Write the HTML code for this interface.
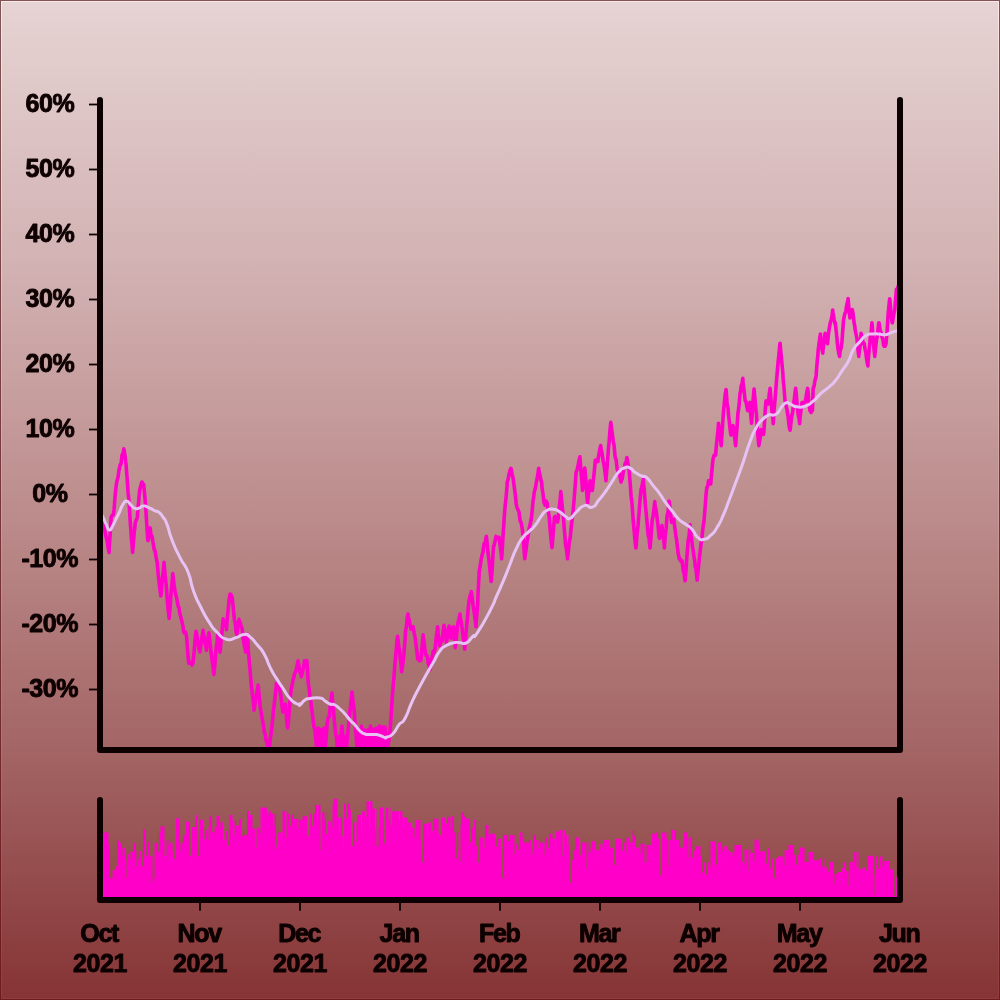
<!DOCTYPE html>
<html lang="en"><head><meta charset="utf-8"><title>Chart</title>
<style>
html,body{margin:0;padding:0;}
body{width:1000px;height:1000px;overflow:hidden;background:#873536;}
#frame{position:absolute;left:0;top:0;width:1000px;height:1000px;background:linear-gradient(180deg,#7e5456 0%,#701a1e 100%);}
#hl{position:absolute;left:1px;top:1px;width:998px;height:998px;background:linear-gradient(180deg,rgb(255,230,230) 0%,rgb(232,200,201) 25.5%,rgb(205,157,157) 50.5%,rgb(175,112,112) 75.5%,rgb(142,62,63) 100%);}
#bg{position:absolute;left:2px;top:2px;width:996px;height:996px;background:linear-gradient(180deg,rgb(230,211,211) 0%,rgb(211,179,180) 25.5%,rgb(189,141,141) 50.5%,rgb(163,100,100) 75.5%,rgb(134,52,53) 100%);}
svg{position:absolute;left:0;top:0;}
text{font-family:"Liberation Sans",sans-serif;font-weight:bold;font-size:25px;letter-spacing:-1.3px;fill:#0d0000;stroke:#0d0000;stroke-width:0.9px;stroke-linejoin:round;}
text.n{letter-spacing:-0.4px;}
</style></head><body>
<div id="frame"><div id="hl"></div><div id="bg"></div>
<svg width="1000" height="1000" viewBox="0 0 1000 1000">
<defs><clipPath id="c1"><rect x="100" y="97" width="800" height="653"/></clipPath>
<clipPath id="c2"><rect x="100" y="797" width="800" height="103"/></clipPath></defs>
<g clip-path="url(#c2)"><path d="M100,900 L100.0,840.0 L103.0,840.0 L103.0,832.6 L108.5,832.6 L108.5,844.6 L109.5,844.6 L109.5,890.2 L110.0,890.2 L110.0,878.2 L112.5,878.2 L112.5,870.2 L116.0,870.2 L116.0,866.6 L117.0,866.6 L117.0,840.6 L119.0,840.6 L119.0,843.0 L122.0,843.0 L122.0,847.8 L122.5,847.8 L122.5,855.8 L124.0,855.8 L124.0,847.8 L125.0,847.8 L125.0,871.8 L126.0,871.8 L126.0,877.8 L126.5,877.8 L126.5,860.2 L127.0,860.2 L127.0,854.2 L130.0,854.2 L130.0,851.8 L130.5,851.8 L130.5,859.8 L131.5,859.8 L131.5,851.8 L133.5,851.8 L133.5,843.0 L136.0,843.0 L136.0,851.0 L136.5,851.0 L136.5,867.0 L137.0,867.0 L137.0,859.0 L140.0,859.0 L140.0,851.0 L142.0,851.0 L142.0,866.0 L143.0,866.0 L143.0,829.4 L146.0,829.4 L146.0,856.4 L147.0,856.4 L147.0,841.4 L149.5,841.4 L149.5,855.8 L152.5,855.8 L152.5,882.2 L153.5,882.2 L153.5,878.2 L154.5,878.2 L154.5,843.0 L157.5,843.0 L157.5,831.8 L158.0,831.8 L158.0,851.8 L159.0,851.8 L159.0,831.8 L160.5,831.8 L160.5,826.2 L164.5,826.2 L164.5,855.8 L166.5,855.8 L166.5,839.8 L168.5,839.8 L168.5,845.8 L169.5,845.8 L169.5,839.8 L170.0,839.8 L170.0,843.0 L172.5,843.0 L172.5,851.0 L174.0,851.0 L174.0,859.0 L176.0,859.0 L176.0,818.2 L179.5,818.2 L179.5,826.2 L180.0,826.2 L180.0,851.0 L180.5,851.0 L180.5,843.0 L183.0,843.0 L183.0,835.0 L186.0,835.0 L186.0,821.4 L187.0,821.4 L187.0,829.4 L188.0,829.4 L188.0,821.4 L190.0,821.4 L190.0,855.8 L191.0,855.8 L191.0,867.8 L192.0,867.8 L192.0,827.0 L195.0,827.0 L195.0,821.0 L196.0,821.0 L196.0,815.0 L197.5,815.0 L197.5,846.2 L198.0,846.2 L198.0,856.2 L199.5,856.2 L199.5,819.8 L203.0,819.8 L203.0,827.0 L204.0,827.0 L204.0,839.0 L205.0,839.0 L205.0,827.0 L205.5,827.0 L205.5,830.2 L208.0,830.2 L208.0,840.2 L208.5,840.2 L208.5,826.6 L209.0,826.6 L209.0,816.6 L212.0,816.6 L212.0,831.8 L214.0,831.8 L214.0,827.0 L214.5,827.0 L214.5,833.0 L215.5,833.0 L215.5,827.0 L216.5,827.0 L216.5,815.8 L219.5,815.8 L219.5,821.8 L220.0,821.8 L220.0,828.2 L220.5,828.2 L220.5,822.2 L223.0,822.2 L223.0,839.8 L226.0,839.8 L226.0,831.0 L228.0,831.0 L228.0,846.0 L229.0,846.0 L229.0,831.0 L229.5,831.0 L229.5,815.0 L232.5,815.0 L232.5,820.6 L233.5,820.6 L233.5,835.6 L234.5,835.6 L234.5,820.6 L236.0,820.6 L236.0,825.4 L239.0,825.4 L239.0,819.0 L241.5,819.0 L241.5,836.2 L243.0,836.2 L243.0,830.2 L244.0,830.2 L244.0,835.0 L247.0,835.0 L247.0,811.0 L249.0,811.0 L249.0,819.0 L250.0,819.0 L250.0,815.0 L252.5,815.0 L252.5,828.8 L255.5,828.8 L255.5,848.8 L256.0,848.8 L256.0,847.5 L256.5,847.5 L256.5,827.5 L260.0,827.5 L260.0,807.5 L260.5,807.5 L260.5,833.5 L261.5,833.5 L261.5,807.5 L267.0,807.5 L267.0,811.5 L267.5,811.5 L267.5,815.2 L268.5,815.2 L268.5,811.2 L271.0,811.2 L271.0,813.8 L273.5,813.8 L273.5,825.8 L274.5,825.8 L274.5,813.8 L276.0,813.8 L276.0,845.0 L276.5,845.0 L276.5,849.0 L277.5,849.0 L277.5,845.0 L278.0,845.0 L278.0,832.5 L281.0,832.5 L281.0,844.5 L282.0,844.5 L282.0,832.5 L282.5,832.5 L282.5,811.2 L285.5,811.2 L285.5,837.2 L286.5,837.2 L286.5,811.2 L287.5,811.2 L287.5,813.8 L290.0,813.8 L290.0,825.8 L291.0,825.8 L291.0,815.0 L294.0,815.0 L294.0,819.0 L295.0,819.0 L295.0,822.8 L295.5,822.8 L295.5,818.8 L297.5,818.8 L297.5,828.8 L298.5,828.8 L298.5,818.8 L299.0,818.8 L299.0,820.0 L302.5,820.0 L302.5,816.2 L307.0,816.2 L307.0,836.2 L309.0,836.2 L309.0,839.8 L310.0,839.8 L310.0,813.8 L312.0,813.8 L312.0,825.8 L313.0,825.8 L313.0,813.8 L315.0,813.8 L315.0,805.0 L317.0,805.0 L317.0,820.0 L318.0,820.0 L318.0,805.0 L320.5,805.0 L320.5,850.0 L322.0,850.0 L322.0,812.5 L324.5,812.5 L324.5,820.5 L325.5,820.5 L325.5,812.5 L326.0,812.5 L326.0,833.8 L328.0,833.8 L328.0,821.2 L332.0,821.2 L332.0,827.2 L332.5,827.2 L332.5,804.8 L333.5,804.8 L333.5,798.8 L337.5,798.8 L337.5,817.5 L339.0,817.5 L339.0,832.5 L340.0,832.5 L340.0,817.5 L342.0,817.5 L342.0,836.2 L343.0,836.2 L343.0,848.2 L344.0,848.2 L344.0,803.8 L346.0,803.8 L346.0,818.8 L347.0,818.8 L347.0,803.8 L350.0,803.8 L350.0,809.8 L351.0,809.8 L351.0,852.2 L351.5,852.2 L351.5,846.2 L353.0,846.2 L353.0,822.5 L355.0,822.5 L355.0,842.5 L356.5,842.5 L356.5,822.5 L357.5,822.5 L357.5,815.0 L361.0,815.0 L361.0,831.2 L362.0,831.2 L362.0,811.2 L365.0,811.2 L365.0,801.2 L365.5,801.2 L365.5,816.2 L366.5,816.2 L366.5,801.2 L369.0,801.2 L369.0,827.2 L370.0,827.2 L370.0,801.2 L372.5,801.2 L372.5,808.8 L375.0,808.8 L375.0,828.8 L376.0,828.8 L376.0,808.8 L376.5,808.8 L376.5,846.2 L378.5,846.2 L378.5,827.5 L379.5,827.5 L379.5,807.5 L383.5,807.5 L383.5,817.5 L384.0,817.5 L384.0,843.5 L385.5,843.5 L385.5,807.5 L388.5,807.5 L388.5,819.5 L390.0,819.5 L390.0,807.5 L390.5,807.5 L390.5,825.0 L392.0,825.0 L392.0,811.2 L399.0,811.2 L399.0,821.2 L400.0,821.2 L400.0,811.2 L402.5,811.2 L402.5,817.5 L403.0,817.5 L403.0,827.5 L404.0,827.5 L404.0,817.5 L407.5,817.5 L407.5,822.5 L411.0,822.5 L411.0,827.5 L414.5,827.5 L414.5,837.5 L415.0,837.5 L415.0,830.0 L415.5,830.0 L415.5,820.0 L420.5,820.0 L420.5,840.0 L421.0,840.0 L421.0,882.5 L421.5,882.5 L421.5,862.5 L423.0,862.5 L423.0,823.8 L427.0,823.8 L427.0,835.8 L427.5,835.8 L427.5,834.5 L428.0,834.5 L428.0,822.5 L431.0,822.5 L431.0,818.8 L431.5,818.8 L431.5,830.8 L433.0,830.8 L433.0,818.8 L438.5,818.8 L438.5,833.8 L439.5,833.8 L439.5,835.0 L441.5,835.0 L441.5,817.5 L445.5,817.5 L445.5,823.5 L447.0,823.5 L447.0,817.5 L449.0,817.5 L449.0,816.2 L450.5,816.2 L450.5,828.2 L451.5,828.2 L451.5,816.2 L454.0,816.2 L454.0,832.5 L456.0,832.5 L456.0,858.5 L457.0,858.5 L457.0,832.5 L458.5,832.5 L458.5,850.0 L460.0,850.0 L460.0,862.0 L460.5,862.0 L460.5,824.5 L461.0,824.5 L461.0,812.5 L464.0,812.5 L464.0,816.5 L465.5,816.5 L465.5,812.5 L466.0,812.5 L466.0,818.8 L470.0,818.8 L470.0,842.5 L471.0,842.5 L471.0,827.5 L474.0,827.5 L474.0,820.0 L476.0,820.0 L476.0,846.0 L477.5,846.0 L477.5,820.0 L478.0,820.0 L478.0,862.5 L479.5,862.5 L479.5,837.5 L483.0,837.5 L483.0,847.5 L484.5,847.5 L484.5,837.5 L485.0,837.5 L485.0,825.0 L488.5,825.0 L488.5,835.0 L490.0,835.0 L490.0,833.8 L495.0,833.8 L495.0,838.8 L496.0,838.8 L496.0,846.8 L497.0,846.8 L497.0,838.8 L501.0,838.8 L501.0,872.5 L502.0,872.5 L502.0,878.5 L503.0,878.5 L503.0,835.0 L508.0,835.0 L508.0,841.0 L509.5,841.0 L509.5,835.0 L514.5,835.0 L514.5,855.0 L515.0,855.0 L515.0,863.8 L515.5,863.8 L515.5,843.8 L518.0,843.8 L518.0,849.8 L519.0,849.8 L519.0,843.8 L520.0,843.8 L520.0,832.5 L522.5,832.5 L522.5,838.5 L523.5,838.5 L523.5,832.5 L524.0,832.5 L524.0,842.5 L529.0,842.5 L529.0,840.0 L531.5,840.0 L531.5,855.0 L532.5,855.0 L532.5,850.0 L533.0,850.0 L533.0,835.0 L536.0,835.0 L536.0,840.0 L537.5,840.0 L537.5,848.0 L538.5,848.0 L538.5,840.0 L540.0,840.0 L540.0,842.5 L543.5,842.5 L543.5,854.5 L544.5,854.5 L544.5,842.5 L545.0,842.5 L545.0,837.5 L548.0,837.5 L548.0,847.5 L549.0,847.5 L549.0,833.8 L552.5,833.8 L552.5,838.8 L555.0,838.8 L555.0,864.8 L556.0,864.8 L556.0,831.2 L560.0,831.2 L560.0,830.0 L562.5,830.0 L562.5,856.0 L564.0,856.0 L564.0,830.0 L565.0,830.0 L565.0,835.0 L567.0,835.0 L567.0,845.0 L568.5,845.0 L568.5,835.0 L569.0,835.0 L569.0,882.5 L571.0,882.5 L571.0,850.0 L572.0,850.0 L572.0,860.0 L573.0,860.0 L573.0,850.0 L575.0,850.0 L575.0,837.5 L579.0,837.5 L579.0,852.5 L579.5,852.5 L579.5,870.0 L580.0,870.0 L580.0,855.0 L581.5,855.0 L581.5,842.5 L585.5,842.5 L585.5,868.5 L586.5,868.5 L586.5,842.5 L588.5,842.5 L588.5,852.5 L590.5,852.5 L590.5,847.2 L592.0,847.2 L592.0,841.2 L595.0,841.2 L595.0,861.2 L596.0,861.2 L596.0,850.0 L600.0,850.0 L600.0,843.8 L602.5,843.8 L602.5,847.8 L603.5,847.8 L603.5,843.8 L604.0,843.8 L604.0,840.0 L609.0,840.0 L609.0,847.5 L613.0,847.5 L613.0,873.5 L613.5,873.5 L613.5,891.0 L614.0,891.0 L614.0,865.0 L615.5,865.0 L615.5,838.8 L617.0,838.8 L617.0,853.8 L618.0,853.8 L618.0,838.8 L621.0,838.8 L621.0,842.5 L622.0,842.5 L622.0,850.5 L623.0,850.5 L623.0,842.5 L625.0,842.5 L625.0,837.5 L626.5,837.5 L626.5,852.5 L627.5,852.5 L627.5,837.5 L629.0,837.5 L629.0,842.5 L632.5,842.5 L632.5,830.0 L634.0,830.0 L634.0,836.0 L635.5,836.0 L635.5,830.0 L636.0,830.0 L636.0,847.5 L639.5,847.5 L639.5,857.5 L640.0,857.5 L640.0,853.8 L640.5,853.8 L640.5,843.8 L644.5,843.8 L644.5,862.5 L646.5,862.5 L646.5,845.0 L651.0,845.0 L651.0,843.8 L652.0,843.8 L652.0,833.8 L655.0,833.8 L655.0,832.5 L658.0,832.5 L658.0,838.5 L659.0,838.5 L659.0,832.5 L659.5,832.5 L659.5,875.0 L661.0,875.0 L661.0,895.0 L661.5,895.0 L661.5,852.5 L662.0,852.5 L662.0,832.5 L665.5,832.5 L665.5,838.5 L666.5,838.5 L666.5,832.5 L667.5,832.5 L667.5,840.0 L668.5,840.0 L668.5,866.0 L670.0,866.0 L670.0,840.0 L671.0,840.0 L671.0,830.0 L673.0,830.0 L673.0,850.0 L674.0,850.0 L674.0,830.0 L676.0,830.0 L676.0,840.0 L677.0,840.0 L677.0,850.0 L678.0,850.0 L678.0,840.0 L680.0,840.0 L680.0,847.5 L683.0,847.5 L683.0,857.5 L684.0,857.5 L684.0,832.5 L687.5,832.5 L687.5,837.5 L688.5,837.5 L688.5,857.5 L690.0,857.5 L690.0,837.5 L692.0,837.5 L692.0,857.5 L694.0,857.5 L694.0,850.2 L695.0,850.2 L695.0,846.2 L700.5,846.2 L700.5,856.2 L701.0,856.2 L701.0,882.5 L701.5,882.5 L701.5,872.5 L703.0,872.5 L703.0,862.5 L706.0,862.5 L706.0,874.5 L707.5,874.5 L707.5,862.5 L709.0,862.5 L709.0,841.2 L710.5,841.2 L710.5,867.2 L711.5,867.2 L711.5,841.2 L715.5,841.2 L715.5,853.2 L716.0,853.2 L716.0,864.5 L717.0,864.5 L717.0,852.5 L718.0,852.5 L718.0,842.5 L722.0,842.5 L722.0,848.5 L722.5,848.5 L722.5,852.2 L723.0,852.2 L723.0,846.2 L725.0,846.2 L725.0,872.2 L726.0,872.2 L726.0,846.2 L727.5,846.2 L727.5,850.0 L730.0,850.0 L730.0,852.1 L731.0,852.1 L731.0,856.1 L732.5,856.1 L732.5,852.1 L734.5,852.1 L734.5,844.9 L742.0,844.9 L742.0,862.0 L743.0,862.0 L743.0,877.0 L744.0,877.0 L744.0,864.4 L744.5,864.4 L744.5,849.4 L748.5,849.4 L748.5,869.4 L749.5,869.4 L749.5,849.4 L750.5,849.4 L750.5,853.0 L753.5,853.0 L753.5,861.0 L754.5,861.0 L754.5,839.5 L758.5,839.5 L758.5,843.5 L759.5,843.5 L759.5,851.2 L765.5,851.2 L765.5,866.2 L766.0,866.2 L766.0,863.5 L767.0,863.5 L767.0,848.5 L770.0,848.5 L770.0,868.5 L771.0,868.5 L771.0,848.5 L771.5,848.5 L771.5,858.4 L773.5,858.4 L773.5,878.4 L775.0,878.4 L775.0,858.4 L777.0,858.4 L777.0,856.6 L779.0,856.6 L779.0,876.6 L780.0,876.6 L780.0,856.6 L784.0,856.6 L784.0,850.3 L784.5,850.3 L784.5,865.3 L786.0,865.3 L786.0,850.3 L788.5,850.3 L788.5,844.9 L794.0,844.9 L794.0,854.8 L796.0,854.8 L796.0,864.8 L797.0,864.8 L797.0,854.8 L799.5,854.8 L799.5,847.6 L804.5,847.6 L804.5,862.0 L808.5,862.0 L808.5,852.1 L809.0,852.1 L809.0,856.1 L810.0,856.1 L810.0,852.1 L813.5,852.1 L813.5,860.2 L820.0,860.2 L820.0,858.4 L822.0,858.4 L822.0,866.4 L823.5,866.4 L823.5,858.4 L824.5,858.4 L824.5,867.4 L827.5,867.4 L827.5,871.4 L829.0,871.4 L829.0,862.0 L833.5,862.0 L833.5,873.7 L834.5,873.7 L834.5,883.7 L836.0,883.7 L836.0,873.7 L838.0,873.7 L838.0,871.9 L841.5,871.9 L841.5,862.0 L842.0,862.0 L842.0,868.0 L843.0,868.0 L843.0,862.0 L845.0,862.0 L845.0,871.0 L847.5,871.0 L847.5,886.0 L848.5,886.0 L848.5,871.0 L849.5,871.0 L849.5,862.0 L851.0,862.0 L851.0,870.0 L852.0,870.0 L852.0,862.0 L854.0,862.0 L854.0,852.1 L856.5,852.1 L856.5,867.1 L858.0,867.1 L858.0,852.1 L858.5,852.1 L858.5,869.2 L862.5,869.2 L862.5,867.4 L865.5,867.4 L865.5,882.4 L866.0,882.4 L866.0,870.7 L867.0,870.7 L867.0,855.7 L869.0,855.7 L869.0,870.7 L870.0,870.7 L870.0,855.7 L873.5,855.7 L873.5,894.6 L874.5,894.6 L874.5,874.6 L875.5,874.6 L875.5,856.6 L878.0,856.6 L878.0,868.6 L879.0,868.6 L879.0,856.6 L881.5,856.6 L881.5,866.6 L882.5,866.6 L882.5,856.6 L883.0,856.6 L883.0,861.1 L887.0,861.1 L887.0,887.1 L888.0,887.1 L888.0,861.1 L889.5,861.1 L889.5,869.2 L893.0,869.2 L893.0,876.4 L894.0,876.4 L894.0,896.0 L895.5,896.0 L895.5,876.4 L897.5,876.4 L897.5,900 Z" fill="#ff00c8"/></g>
<g clip-path="url(#c1)" fill="none" stroke-linejoin="round" stroke-linecap="round">
<path d="M100.1,519.6 L101.1,519.6 L102.1,519.6 L103.0,522.0 L103.1,523.3 L104.1,525.5 L105.1,532.8 L105.4,534.0 L106.1,537.0 L107.1,540.5 L108.1,547.6 L109.1,552.4 L109.1,549.5 L110.1,534.3 L111.0,519.6 L111.1,517.3 L112.1,515.4 L113.1,515.0 L113.4,514.8 L114.1,509.2 L115.1,495.8 L116.1,486.3 L116.6,482.8 L117.1,480.6 L118.1,476.8 L119.0,470.0 L119.1,469.9 L120.1,465.0 L121.1,463.8 L121.4,460.4 L122.1,454.8 L123.1,453.9 L123.8,448.9 L124.1,450.1 L125.1,456.2 L125.7,462.0 L126.1,465.1 L127.1,478.2 L128.1,492.9 L128.6,497.2 L129.1,503.3 L130.1,519.9 L131.0,532.4 L131.1,534.6 L132.1,545.8 L132.6,552.4 L133.1,546.9 L134.1,533.6 L135.0,526.0 L135.1,523.4 L136.1,520.1 L137.1,518.4 L137.4,516.4 L138.1,507.9 L139.1,496.0 L139.8,489.2 L140.1,488.5 L141.1,484.4 L141.7,482.5 L142.1,481.9 L143.1,485.2 L143.8,484.4 L144.1,489.3 L145.1,499.4 L145.9,510.0 L146.1,514.2 L147.1,529.8 L147.8,540.4 L148.1,540.6 L149.1,534.9 L150.1,527.8 L150.2,528.4 L151.1,535.4 L152.1,536.3 L152.8,541.6 L153.1,542.7 L154.1,549.2 L155.1,551.1 L156.1,557.5 L156.8,560.8 L157.1,561.4 L158.1,573.2 L159.1,582.5 L160.1,590.4 L160.8,596.0 L161.1,594.4 L162.1,581.2 L163.1,572.6 L164.0,562.4 L164.1,564.1 L165.1,574.7 L166.1,584.8 L166.4,588.0 L167.1,597.7 L168.1,609.4 L169.1,618.3 L169.1,618.4 L170.1,607.0 L171.1,591.9 L172.1,582.8 L172.8,573.6 L173.1,576.5 L174.1,585.2 L175.1,591.4 L176.0,596.0 L176.1,595.5 L177.1,600.5 L178.1,606.3 L179.1,607.7 L179.2,610.4 L180.1,614.6 L181.1,618.0 L182.1,622.6 L183.1,627.1 L183.2,629.6 L184.1,632.7 L185.1,631.7 L186.1,634.2 L186.4,636.0 L187.1,643.6 L188.1,657.3 L188.8,663.2 L189.1,661.2 L190.1,663.0 L191.1,663.4 L192.1,665.0 L192.8,663.2 L193.1,661.5 L194.1,651.7 L195.1,638.9 L196.0,631.2 L196.1,631.4 L197.1,636.3 L198.1,644.1 L199.1,649.6 L200.0,652.0 L200.1,649.5 L201.1,643.2 L202.1,636.9 L203.1,630.4 L203.2,631.2 L204.1,636.6 L205.1,643.1 L206.1,647.6 L206.4,650.4 L207.1,642.7 L208.1,637.4 L208.8,632.8 L209.1,634.7 L210.1,643.7 L211.1,653.5 L211.2,652.0 L212.1,660.5 L213.1,667.9 L213.9,674.4 L214.1,672.8 L215.1,662.2 L216.1,648.3 L217.1,641.5 L217.6,634.4 L218.1,639.6 L219.1,647.3 L220.0,652.0 L220.1,652.2 L221.1,640.3 L222.1,630.3 L223.1,618.9 L223.2,620.0 L224.1,623.4 L225.1,623.7 L226.1,626.7 L226.4,629.6 L227.1,620.6 L228.1,609.9 L229.1,600.3 L229.6,596.0 L230.1,594.2 L231.1,594.6 L232.0,597.6 L232.1,597.0 L233.1,606.1 L234.1,616.7 L234.4,620.0 L235.1,622.0 L236.1,632.1 L236.8,634.4 L237.1,633.0 L238.1,624.8 L239.1,619.3 L239.2,620.0 L240.1,622.5 L241.1,626.1 L242.1,628.4 L242.4,631.2 L243.1,637.6 L244.1,644.7 L245.1,648.7 L245.6,652.0 L246.1,647.2 L247.1,636.1 L247.5,634.4 L248.1,645.0 L248.4,652.8 L249.1,659.8 L250.1,670.2 L251.1,683.8 L252.1,691.4 L252.4,696.0 L253.1,699.5 L254.0,708.8 L254.1,710.3 L255.1,702.7 L256.1,695.2 L257.1,691.5 L258.0,686.4 L258.1,685.1 L259.1,695.5 L260.1,705.7 L261.1,713.1 L261.2,712.0 L262.1,718.9 L263.1,723.3 L264.1,730.3 L264.4,732.8 L265.1,733.8 L266.1,740.4 L267.1,742.9 L268.1,747.8 L269.1,749.3 L269.2,750.4 L270.1,740.2 L271.1,733.5 L272.1,724.7 L273.1,714.5 L273.2,712.0 L274.1,705.2 L275.1,696.2 L276.1,686.9 L276.4,683.2 L277.1,683.3 L278.1,686.7 L279.1,687.9 L279.6,689.6 L280.1,691.0 L281.1,698.0 L282.1,706.2 L282.8,712.0 L283.1,709.8 L284.1,708.5 L285.1,706.5 L285.2,704.0 L286.1,712.9 L287.1,725.3 L287.6,728.0 L288.1,724.6 L289.1,713.5 L290.1,699.6 L290.8,692.8 L291.1,689.9 L292.1,684.9 L293.1,679.7 L294.0,676.8 L294.1,674.9 L295.1,672.9 L296.1,670.2 L297.1,666.0 L298.0,660.8 L298.1,661.3 L299.1,667.1 L300.1,672.8 L301.1,674.4 L301.2,676.8 L302.1,673.0 L303.1,669.2 L304.1,663.6 L304.4,660.8 L305.1,662.0 L306.1,660.7 L306.8,660.8 L307.1,663.8 L308.1,681.0 L308.5,685.0 L309.1,688.4 L310.1,697.5 L311.0,702.0 L311.1,705.3 L312.1,711.6 L313.0,720.0 L313.1,720.1 L314.1,727.7 L315.0,730.0 L315.1,732.5 L316.1,741.9 L316.5,748.0 L317.1,737.9 L318.0,728.0 L318.1,727.9 L319.1,744.9 L319.5,748.0 L320.1,742.0 L321.0,730.0 L321.1,729.7 L322.1,745.0 L322.5,748.0 L323.1,742.0 L324.0,728.0 L324.1,730.2 L325.1,740.7 L325.5,746.0 L326.1,738.0 L327.0,726.0 L327.1,723.6 L328.1,718.1 L329.0,716.0 L329.1,717.3 L330.1,708.1 L331.1,699.9 L332.0,693.0 L332.1,696.5 L333.1,705.6 L334.0,716.0 L334.1,719.0 L335.1,728.8 L336.0,736.0 L336.1,735.6 L337.1,743.8 L337.5,748.0 L338.1,742.5 L339.0,737.0 L339.1,736.6 L340.1,745.6 L340.5,748.0 L341.1,737.8 L342.0,726.0 L342.1,727.4 L343.1,740.7 L343.5,748.0 L344.1,745.4 L345.0,737.0 L345.1,737.2 L346.1,745.0 L346.5,748.0 L347.1,741.0 L348.0,730.0 L348.1,730.7 L349.1,718.4 L350.0,710.0 L350.1,710.9 L351.1,699.9 L352.0,692.0 L352.1,693.2 L353.1,702.2 L354.0,710.0 L354.1,709.3 L355.1,724.6 L355.5,730.0 L356.1,735.9 L357.0,748.0 L357.1,744.3 L358.1,737.5 L358.5,732.0 L359.1,737.0 L360.0,748.0 L360.1,746.1 L361.1,732.7 L361.5,726.0 L362.1,735.4 L363.0,748.0 L363.1,745.7 L364.1,734.6 L364.5,730.0 L365.1,737.7 L366.0,748.0 L366.1,747.9 L367.1,732.7 L367.5,730.0 L368.1,737.7 L369.0,748.0 L369.1,745.0 L370.1,730.5 L370.5,726.0 L371.1,736.4 L372.0,748.0 L372.1,746.5 L373.1,734.1 L373.5,729.0 L374.1,738.1 L375.0,748.0 L375.1,748.4 L376.1,732.8 L376.5,728.0 L377.1,736.8 L378.0,748.0 L378.1,746.3 L379.1,731.6 L379.5,726.0 L380.1,736.0 L381.0,748.0 L381.1,746.1 L382.1,732.5 L382.5,727.0 L383.1,735.6 L384.0,748.0 L384.1,747.6 L385.0,727.0 L385.1,729.0 L386.0,736.0 L386.1,738.5 L387.1,744.8 L388.0,748.0 L388.1,745.8 L389.1,738.5 L389.6,734.0 L390.1,729.2 L391.1,715.4 L392.0,702.0 L392.1,698.8 L393.1,686.2 L394.1,675.2 L395.1,660.9 L395.2,662.0 L396.1,650.9 L397.1,639.5 L397.6,636.4 L398.1,641.0 L399.1,648.9 L400.0,654.0 L400.1,657.2 L401.1,664.7 L401.6,671.6 L402.1,668.8 L403.1,661.2 L404.0,654.0 L404.1,650.5 L405.1,639.0 L405.6,630.0 L406.1,628.8 L407.1,618.5 L408.0,614.0 L408.1,616.8 L409.1,619.5 L410.1,625.2 L410.4,626.8 L411.1,629.2 L412.1,628.4 L412.8,626.8 L413.1,626.7 L414.1,632.6 L415.1,637.7 L415.2,638.0 L416.1,645.2 L417.1,653.2 L417.6,658.8 L418.1,658.2 L419.1,660.6 L420.1,657.8 L420.8,660.4 L421.1,657.5 L422.1,646.9 L423.1,634.9 L423.2,636.4 L424.1,642.3 L425.1,651.1 L425.6,654.0 L426.1,655.4 L427.1,656.0 L428.0,660.4 L428.1,663.1 L429.1,665.5 L430.1,669.7 L430.4,668.4 L431.1,662.2 L432.1,657.0 L432.8,654.0 L433.1,651.2 L434.1,652.7 L435.1,648.3 L435.2,649.2 L436.1,638.8 L437.1,630.9 L437.6,626.8 L438.1,632.9 L439.1,640.5 L440.0,646.0 L440.1,644.4 L441.1,640.6 L442.1,640.9 L442.4,638.0 L443.1,632.6 L444.0,625.2 L444.1,627.0 L445.1,631.4 L446.1,638.6 L446.4,642.8 L447.1,638.9 L448.1,631.0 L448.8,626.8 L449.1,626.2 L450.1,635.1 L451.1,638.3 L451.2,638.0 L452.1,635.2 L453.1,627.0 L453.6,626.8 L454.1,635.3 L455.1,644.5 L455.2,647.6 L456.1,640.8 L457.1,629.5 L457.6,625.2 L458.1,622.0 L459.1,618.4 L460.0,614.0 L460.1,616.9 L461.1,621.1 L462.1,627.8 L462.4,631.6 L463.1,637.0 L464.1,643.0 L464.8,649.2 L465.1,643.7 L466.1,632.6 L467.1,620.7 L467.2,622.0 L468.1,609.5 L468.8,602.8 L469.1,600.4 L470.1,595.7 L471.1,593.2 L471.2,591.6 L472.1,597.3 L473.1,605.7 L473.6,609.2 L474.1,611.5 L475.1,619.6 L476.0,626.8 L476.1,622.9 L477.1,611.0 L477.6,606.0 L478.1,592.5 L479.1,574.4 L479.2,571.6 L480.1,566.7 L481.1,559.4 L482.1,555.1 L483.1,551.7 L483.2,549.2 L484.1,543.6 L485.1,543.1 L486.1,537.2 L486.4,536.4 L487.1,543.1 L488.1,554.1 L488.8,558.8 L489.1,561.3 L490.1,571.2 L491.1,581.4 L491.2,581.2 L492.1,570.0 L493.1,552.3 L493.6,546.0 L494.1,545.5 L495.1,540.9 L496.0,536.4 L496.1,537.2 L497.1,537.1 L498.1,537.8 L499.1,537.4 L499.2,539.6 L500.1,545.2 L501.1,552.9 L501.6,558.8 L502.1,552.0 L503.1,534.3 L504.0,522.0 L504.1,518.9 L505.1,506.0 L506.1,497.1 L507.1,484.8 L507.2,482.0 L508.1,479.4 L509.1,473.9 L510.1,470.0 L510.9,468.4 L511.1,468.6 L512.1,474.4 L513.1,478.0 L513.6,482.0 L514.1,485.9 L515.1,493.0 L516.0,501.2 L516.1,503.9 L517.1,507.9 L518.1,509.9 L519.1,512.5 L519.2,514.0 L520.1,520.8 L521.1,522.7 L522.1,527.9 L522.4,530.0 L523.1,536.2 L524.1,550.1 L524.8,558.8 L525.1,556.4 L526.1,549.6 L527.1,541.1 L528.0,536.4 L528.1,535.8 L529.1,528.4 L530.1,524.7 L531.1,518.8 L531.2,520.4 L532.1,511.3 L533.1,500.3 L533.6,498.0 L534.1,492.9 L535.1,489.0 L536.0,485.2 L536.1,483.2 L537.1,478.7 L538.1,472.2 L538.7,468.4 L539.1,471.5 L540.1,475.8 L541.1,480.8 L541.6,482.0 L542.1,488.3 L543.1,494.6 L544.0,502.8 L544.1,502.0 L545.1,505.1 L546.1,501.1 L547.1,503.9 L547.2,502.8 L548.1,510.8 L549.1,516.0 L549.6,522.0 L550.1,529.2 L551.1,540.1 L552.0,547.6 L552.1,546.7 L553.1,534.5 L554.1,522.2 L554.4,517.2 L555.1,516.5 L556.1,519.9 L557.1,521.3 L557.6,522.0 L558.1,518.7 L559.1,509.0 L560.1,499.6 L560.8,491.6 L561.1,495.0 L562.1,505.8 L563.1,514.1 L563.2,514.0 L564.1,527.2 L565.1,538.3 L565.6,546.0 L566.1,547.2 L567.1,554.4 L567.5,558.8 L568.1,553.2 L569.1,543.7 L570.0,538.4 L570.1,538.9 L571.1,528.6 L572.1,519.9 L573.1,510.9 L573.2,509.6 L574.1,499.4 L575.1,486.5 L576.1,472.2 L576.4,471.2 L577.1,469.7 L578.1,465.4 L579.1,460.1 L579.9,456.8 L580.1,459.6 L581.1,473.3 L582.1,483.6 L582.5,490.4 L583.1,485.1 L584.1,472.8 L584.7,468.0 L585.1,470.8 L586.1,484.0 L587.1,498.4 L587.6,503.2 L588.1,496.9 L589.1,490.2 L590.0,480.8 L590.1,483.6 L591.1,485.3 L592.1,488.7 L592.4,490.4 L593.1,482.7 L594.1,473.1 L595.1,463.0 L595.3,460.0 L596.1,461.1 L597.1,461.8 L598.0,461.6 L598.1,458.9 L599.1,453.3 L600.1,447.9 L600.7,445.6 L601.1,449.3 L602.1,453.4 L603.1,460.9 L603.3,461.6 L604.1,465.2 L605.1,472.5 L606.0,480.8 L606.1,478.1 L607.1,466.7 L608.1,453.5 L608.4,448.8 L609.1,441.7 L610.1,428.9 L610.8,422.4 L611.1,424.9 L612.1,432.4 L613.1,440.0 L613.2,440.8 L614.1,445.7 L615.1,456.8 L615.6,458.4 L616.1,459.7 L617.1,468.8 L618.0,471.2 L618.1,473.7 L619.1,472.2 L620.1,477.4 L621.1,482.1 L621.2,480.8 L622.1,479.4 L623.1,472.9 L624.1,468.0 L624.4,468.0 L625.1,463.5 L626.1,462.7 L626.8,457.6 L627.1,458.0 L628.1,465.5 L629.1,469.0 L629.2,471.2 L630.1,482.4 L631.1,496.4 L631.6,500.0 L632.1,504.5 L633.1,519.8 L634.0,528.8 L634.1,530.0 L635.1,541.9 L635.9,548.0 L636.1,546.7 L637.1,533.2 L638.1,525.2 L638.5,519.2 L639.1,512.4 L640.1,499.6 L641.1,488.9 L641.2,490.4 L642.1,485.4 L643.1,479.8 L643.3,479.2 L644.1,488.7 L645.1,500.5 L645.2,503.2 L646.1,512.3 L647.1,522.8 L647.6,528.8 L648.1,534.6 L649.1,538.6 L650.0,548.0 L650.1,547.8 L651.1,536.2 L652.1,520.7 L652.4,519.2 L653.1,516.0 L654.1,507.6 L654.8,501.6 L655.1,505.9 L656.1,510.3 L657.1,518.0 L657.2,519.2 L658.1,526.0 L659.1,537.0 L659.6,538.4 L660.1,536.1 L661.1,529.6 L662.0,525.6 L662.1,526.4 L663.1,535.0 L664.1,543.2 L664.4,548.0 L665.1,537.4 L666.1,529.0 L666.8,519.2 L667.1,515.8 L668.1,511.6 L669.1,501.0 L669.2,501.6 L670.1,508.4 L671.1,518.3 L671.6,522.4 L672.1,520.2 L673.1,519.8 L674.0,519.2 L674.1,522.3 L675.1,530.0 L676.1,537.7 L676.4,538.4 L677.1,544.3 L678.1,553.0 L678.8,556.0 L679.1,558.8 L680.1,558.9 L681.1,561.7 L682.0,562.4 L682.1,560.9 L683.1,569.7 L684.1,573.8 L685.1,580.8 L685.2,580.0 L686.1,568.4 L687.1,553.4 L687.6,548.0 L688.1,541.0 L689.1,535.9 L690.0,525.6 L690.1,524.9 L691.1,535.2 L692.1,543.2 L692.4,546.4 L693.1,549.7 L694.1,557.9 L694.8,560.8 L695.1,565.6 L696.1,570.2 L697.1,580.1 L697.2,580.0 L698.1,569.8 L699.1,561.1 L699.6,556.0 L700.1,551.7 L701.1,543.3 L702.0,538.4 L702.1,535.7 L703.1,526.5 L704.1,520.6 L704.4,516.0 L705.1,507.3 L706.1,494.0 L706.8,487.2 L707.1,487.9 L708.1,484.3 L708.4,480.8 L709.1,481.5 L710.1,481.4 L710.8,484.0 L711.1,479.1 L712.1,468.0 L713.1,458.5 L713.2,458.4 L714.1,455.2 L715.1,454.6 L715.6,455.2 L716.1,448.3 L717.1,438.6 L718.1,429.1 L718.5,423.2 L719.1,429.7 L720.1,436.3 L721.1,444.5 L721.2,445.6 L722.1,432.2 L723.1,416.8 L723.6,410.4 L724.1,405.1 L725.1,395.1 L726.0,389.6 L726.1,389.7 L727.1,403.0 L728.1,409.0 L728.4,413.6 L729.1,419.9 L730.1,429.1 L730.8,434.4 L731.1,435.1 L732.1,428.6 L733.1,425.6 L733.2,426.4 L734.1,432.6 L735.1,441.3 L735.6,445.6 L736.1,438.1 L737.1,426.5 L738.0,412.0 L738.1,412.7 L739.1,404.8 L740.1,392.7 L740.4,392.8 L741.1,386.2 L742.1,383.5 L742.8,378.4 L743.1,383.3 L744.1,390.6 L745.1,400.5 L745.2,400.8 L746.1,402.1 L747.1,408.0 L747.6,410.4 L748.1,410.7 L749.1,406.9 L750.0,402.4 L750.1,405.7 L751.1,419.2 L751.6,423.2 L752.1,414.7 L753.1,400.0 L754.0,389.6 L754.1,389.1 L755.1,400.9 L756.1,411.7 L756.4,413.6 L757.1,425.3 L758.1,437.6 L758.8,445.6 L759.1,444.2 L760.1,438.1 L761.1,429.9 L761.2,429.6 L762.1,431.7 L763.1,431.2 L763.6,434.4 L764.1,428.5 L765.1,411.8 L766.0,400.8 L766.1,403.0 L767.1,403.0 L768.1,402.7 L768.4,404.0 L769.1,395.2 L770.0,388.4 L770.1,388.5 L771.1,401.4 L772.1,412.7 L773.1,420.9 L773.2,423.6 L774.1,409.6 L775.1,398.8 L776.1,386.0 L776.4,382.0 L777.1,373.6 L778.1,361.9 L779.1,352.8 L779.9,343.6 L780.1,343.3 L781.1,354.6 L782.1,365.4 L782.8,372.4 L783.1,378.4 L784.1,388.9 L785.1,402.1 L785.2,401.2 L786.1,406.0 L787.1,410.2 L787.6,414.0 L788.1,416.3 L789.1,426.3 L790.0,430.0 L790.1,430.2 L791.1,421.6 L792.1,413.6 L792.4,414.0 L793.1,408.2 L794.1,401.1 L795.1,391.9 L795.6,388.4 L796.1,392.4 L797.1,404.4 L797.5,407.6 L798.1,414.3 L799.1,418.6 L799.6,423.6 L800.1,416.9 L801.1,409.6 L802.0,402.8 L802.1,402.5 L803.1,404.4 L804.1,402.8 L804.4,404.4 L805.1,402.2 L806.1,396.9 L807.1,390.8 L807.6,388.4 L808.1,391.8 L809.1,404.8 L810.0,410.8 L810.1,409.9 L811.1,412.3 L812.1,409.5 L812.4,410.8 L813.1,389.3 L813.2,388.4 L814.1,386.0 L815.1,379.7 L815.6,378.8 L816.1,375.4 L817.1,362.6 L818.0,353.2 L818.1,350.7 L819.1,342.9 L820.1,335.8 L820.4,334.0 L821.1,340.6 L822.1,349.9 L822.8,353.2 L823.1,348.9 L824.1,342.1 L825.1,333.3 L825.2,334.0 L826.1,340.0 L827.1,340.0 L827.6,343.6 L828.1,337.3 L829.1,329.3 L830.0,324.4 L830.1,323.3 L831.1,320.4 L832.1,315.0 L832.7,310.0 L833.1,313.1 L834.1,319.4 L835.1,324.1 L835.3,322.8 L836.1,330.4 L837.1,339.7 L837.2,342.0 L838.1,349.6 L839.1,354.7 L839.6,356.4 L840.1,351.0 L841.1,348.1 L842.0,342.0 L842.1,339.7 L843.1,325.7 L843.6,319.6 L844.1,317.1 L845.1,312.9 L846.0,311.6 L846.1,308.5 L847.1,303.7 L848.1,298.8 L848.1,298.5 L849.1,311.4 L850.0,318.0 L850.1,315.8 L851.1,316.5 L852.1,309.5 L852.4,310.0 L853.1,314.1 L854.1,323.0 L854.8,326.0 L855.1,329.7 L856.1,334.5 L857.1,339.3 L857.2,342.0 L858.1,350.2 L858.8,356.4 L859.1,352.8 L860.1,346.1 L861.1,333.3 L861.2,334.0 L862.1,337.0 L863.1,343.6 L863.6,343.6 L864.1,343.4 L865.1,349.3 L866.0,353.2 L866.1,355.5 L867.1,361.9 L867.9,366.0 L868.1,361.5 L869.1,349.9 L870.0,342.0 L870.1,338.7 L871.1,332.8 L871.9,322.8 L872.1,324.0 L873.1,338.0 L874.1,350.4 L874.8,356.4 L875.1,352.7 L876.1,343.1 L876.9,337.2 L877.1,337.6 L878.1,328.5 L878.8,322.8 L879.1,323.2 L880.1,330.0 L881.1,332.7 L881.2,334.0 L882.1,337.2 L883.1,340.6 L883.6,345.2 L884.1,346.1 L885.1,346.2 L886.0,343.6 L886.1,342.7 L887.1,331.2 L887.6,322.8 L888.1,314.5 L889.1,304.0 L889.7,298.8 L890.1,302.6 L891.1,313.7 L892.1,322.5 L892.4,322.8 L893.1,318.4 L894.1,312.4 L894.8,310.0 L895.1,305.5 L896.1,292.8 L896.4,289.2 L897.1,290.7 L898.1,286.3 L899.1,288.5 L900.1,287.4 L900.4,286.0" stroke="#ff00c8" stroke-width="3.6"/>
<path d="M100.1,513.2 C101.1,514.5 101.0,513.5 103.0,517.2 C105.0,520.9 104.1,520.1 106.2,524.4 C108.3,528.7 107.3,529.5 109.4,530.0 C111.5,530.5 110.5,529.5 112.6,526.0 C114.7,522.5 113.7,523.9 115.8,519.6 C117.9,515.3 116.6,518.3 119.0,513.2 C121.4,508.1 120.3,508.4 123.0,504.4 C125.7,500.4 124.3,500.9 127.0,501.2 C129.7,501.5 128.3,502.8 131.0,505.2 C133.7,507.6 132.3,507.4 135.0,508.4 C137.7,509.4 136.3,508.9 139.0,508.1 C141.7,507.3 140.3,506.4 143.0,506.0 C145.7,505.6 144.3,505.9 147.0,506.8 C149.7,507.7 148.3,507.4 151.0,508.7 C153.7,510.1 152.3,509.6 155.0,510.8 C157.7,512.0 156.3,510.3 159.0,512.4 C161.7,514.5 160.3,513.2 163.0,517.2 C165.7,521.2 164.0,516.8 167.0,524.4 C170.0,532.0 167.7,528.9 172.0,540.0 C176.3,551.1 174.7,546.9 180.0,557.6 C185.3,568.3 183.5,560.8 188.0,572.0 C192.5,583.2 189.3,579.5 193.6,591.2 C197.9,602.9 195.7,597.1 200.8,607.2 C205.9,617.3 203.5,613.3 208.8,621.6 C214.1,629.9 210.9,626.1 216.8,632.0 C222.7,637.9 220.0,637.3 226.4,639.2 C232.8,641.1 230.1,639.2 236.0,637.6 C241.9,636.0 239.3,634.7 244.0,634.4 C248.7,634.1 245.6,633.3 250.0,636.8 C254.4,640.3 252.4,638.9 257.2,644.8 C262.0,650.7 260.1,646.9 264.4,654.4 C268.7,661.9 266.0,659.2 270.0,667.2 C274.0,675.2 272.1,671.5 276.4,678.4 C280.7,685.3 278.5,681.6 282.8,688.0 C287.1,694.4 284.9,692.5 289.2,697.6 C293.5,702.7 292.1,701.1 295.6,703.2 C299.1,705.3 298.1,703.4 299.6,704.0 C301.1,704.6 298.2,706.3 300.0,705.0 C301.8,703.7 301.7,702.2 305.0,700.0 C308.3,697.8 305.0,699.2 310.0,698.5 C315.0,697.8 315.0,697.2 320.0,698.0 C325.0,698.8 321.7,699.0 325.0,701.0 C328.3,703.0 326.7,702.7 330.0,704.0 C333.3,705.3 331.7,703.3 335.0,705.0 C338.3,706.7 336.7,706.0 340.0,709.0 C343.3,712.0 341.7,710.3 345.0,714.0 C348.3,717.7 346.7,716.3 350.0,720.0 C353.3,723.7 351.7,721.3 355.0,725.0 C358.3,728.7 356.7,728.0 360.0,731.0 C363.3,734.0 361.7,732.8 365.0,734.0 C368.3,735.2 366.7,734.3 370.0,734.5 C373.3,734.7 371.7,734.2 375.0,734.5 C378.3,734.8 376.7,734.5 380.0,735.5 C383.3,736.5 382.9,736.9 385.0,737.5 C387.1,738.1 383.8,738.4 386.4,737.2 C389.0,736.0 388.5,738.3 392.8,734.0 C397.1,729.7 395.2,729.5 399.2,724.4 C403.2,719.3 400.5,726.3 404.8,718.8 C409.1,711.3 406.9,712.9 412.0,702.0 C417.1,691.1 414.7,696.1 420.0,686.0 C425.3,675.9 423.2,680.1 428.0,671.6 C432.8,663.1 430.4,667.3 434.4,660.4 C438.4,653.5 436.3,655.6 440.0,650.8 C443.7,646.0 441.1,648.7 445.6,646.0 C450.1,643.3 448.8,643.9 453.6,642.8 C458.4,641.7 455.7,642.8 460.0,642.8 C464.3,642.8 462.1,644.9 466.4,642.8 C470.7,640.7 469.1,639.9 472.8,636.4 C476.5,632.9 471.7,641.2 477.6,632.4 C483.5,623.6 484.0,622.3 490.4,610.0 C496.8,597.7 492.5,605.2 496.8,595.6 C501.1,586.0 498.9,591.3 503.2,581.2 C507.5,571.1 505.3,575.9 509.6,565.2 C513.9,554.5 511.7,558.3 516.0,549.2 C520.3,540.1 518.1,543.9 522.4,538.0 C526.7,532.1 524.5,535.9 528.8,531.6 C533.1,527.3 530.9,530.5 535.2,525.2 C539.5,519.9 537.9,520.4 541.6,515.6 C545.3,510.8 542.7,512.9 546.4,510.8 C550.1,508.7 548.5,508.9 552.8,509.2 C557.1,509.5 554.9,509.2 559.2,511.6 C563.5,514.0 562.0,514.1 565.6,516.4 C569.2,518.7 566.4,519.9 570.0,518.4 C573.6,516.9 571.6,516.3 576.4,512.0 C581.2,507.7 579.1,507.2 584.4,505.6 C589.7,504.0 587.6,509.1 592.4,507.2 C597.2,505.3 594.5,505.1 598.8,500.0 C603.1,494.9 600.9,497.9 605.2,492.0 C609.5,486.1 607.3,488.8 611.6,482.4 C615.9,476.0 613.7,477.6 618.0,472.8 C622.3,468.0 620.4,469.6 624.4,468.0 C628.4,466.4 626.3,466.4 630.0,468.0 C633.7,469.6 631.6,470.1 635.6,472.8 C639.6,475.5 638.3,474.4 642.0,476.0 C645.7,477.6 643.1,474.4 646.8,477.6 C650.5,480.8 648.9,480.3 653.2,485.6 C657.5,490.9 655.3,487.7 659.6,493.6 C663.9,499.5 661.7,497.3 666.0,503.2 C670.3,509.1 668.1,505.9 672.4,511.2 C676.7,516.5 674.5,514.9 678.8,519.2 C683.1,523.5 680.9,520.8 685.2,524.0 C689.5,527.2 687.3,524.3 691.6,528.8 C695.9,533.3 693.7,534.1 698.0,537.6 C702.3,541.1 700.1,540.0 704.4,539.2 C708.7,538.4 706.5,539.2 710.8,535.2 C715.1,531.2 712.9,534.1 717.2,527.2 C721.5,520.3 719.6,523.5 723.6,514.4 C727.6,505.3 724.9,511.2 729.2,500.0 C733.5,488.8 731.9,493.1 736.4,480.8 C740.9,468.5 738.5,475.5 742.8,463.2 C747.1,450.9 744.9,455.5 749.2,444.0 C753.5,432.5 751.3,436.8 755.6,428.8 C759.9,420.8 757.7,424.5 762.0,420.0 C766.3,415.5 765.7,416.9 768.4,415.2 C771.1,413.5 767.3,415.2 770.0,414.8 C772.7,414.4 772.7,416.4 776.4,414.0 C780.1,411.6 778.0,411.3 781.2,407.6 C784.4,403.9 782.8,403.9 786.0,402.8 C789.2,401.7 787.1,403.1 790.8,404.4 C794.5,405.7 792.4,406.3 797.2,406.8 C802.0,407.3 799.9,407.9 805.2,406.0 C810.5,404.1 807.9,405.5 813.2,401.2 C818.5,396.9 815.9,398.0 821.2,393.2 C826.5,388.4 824.4,391.1 829.2,386.8 C834.0,382.5 831.3,385.7 835.6,380.4 C839.9,375.1 837.7,377.2 842.0,370.8 C846.3,364.4 844.7,368.1 848.4,361.2 C852.1,354.3 849.5,356.4 853.2,350.0 C856.9,343.6 855.3,346.8 859.6,342.0 C863.9,337.2 861.7,338.3 866.0,335.6 C870.3,332.9 868.1,334.5 872.4,334.0 C876.7,333.5 874.5,333.7 878.8,334.0 C883.1,334.3 881.5,335.1 885.2,334.8 C888.9,334.5 886.3,334.5 890.0,333.2 C893.7,331.9 892.9,332.0 896.4,330.8 C899.9,329.6 899.1,329.9 900.4,329.5" stroke="#e7c2f5" stroke-width="3"/>
</g>
<g stroke="#0d0000" stroke-width="1.8" fill="none">
<line x1="89" y1="104.5" x2="100" y2="104.5"/><line x1="89" y1="169.5" x2="100" y2="169.5"/><line x1="89" y1="234.5" x2="100" y2="234.5"/><line x1="89" y1="299.5" x2="100" y2="299.5"/><line x1="89" y1="364.5" x2="100" y2="364.5"/><line x1="89" y1="429.5" x2="100" y2="429.5"/><line x1="89" y1="494.5" x2="100" y2="494.5"/><line x1="89" y1="559.5" x2="100" y2="559.5"/><line x1="89" y1="624.5" x2="100" y2="624.5"/><line x1="89" y1="689.5" x2="100" y2="689.5"/><line x1="200" y1="900" x2="200" y2="910.8"/><line x1="300" y1="900" x2="300" y2="910.8"/><line x1="400" y1="900" x2="400" y2="910.8"/><line x1="500" y1="900" x2="500" y2="910.8"/><line x1="600" y1="900" x2="600" y2="910.8"/><line x1="700" y1="900" x2="700" y2="910.8"/><line x1="800" y1="900" x2="800" y2="910.8"/></g>
<g fill="none" stroke="#0d0000" stroke-width="6" stroke-linecap="round" stroke-linejoin="round">
<path d="M100,100 L100,750 L900,750 L900,100"/>
<path d="M100,800 L100,900 L900,900 L900,800"/>
</g>
<g text-anchor="middle">
<text class="n" x="49.8" y="112.0">60%</text><text class="n" x="49.8" y="177.0">50%</text><text class="n" x="49.8" y="242.0">40%</text><text class="n" x="49.8" y="307.0">30%</text><text class="n" x="49.8" y="372.0">20%</text><text class="n" x="49.8" y="437.0">10%</text><text class="n" x="49.8" y="502.0">0%</text><text class="n" x="49.8" y="567.0">-10%</text><text class="n" x="49.8" y="632.0">-20%</text><text class="n" x="49.8" y="697.0">-30%</text></g>
<g text-anchor="middle">
<text x="99.2" y="941.5">Oct</text><text class="n" x="100" y="971.5">2021</text><text x="199.2" y="941.5">Nov</text><text class="n" x="200" y="971.5">2021</text><text x="299.2" y="941.5">Dec</text><text class="n" x="300" y="971.5">2021</text><text x="399.2" y="941.5">Jan</text><text class="n" x="400" y="971.5">2022</text><text x="499.2" y="941.5">Feb</text><text class="n" x="500" y="971.5">2022</text><text x="599.2" y="941.5">Mar</text><text class="n" x="600" y="971.5">2022</text><text x="699.2" y="941.5">Apr</text><text class="n" x="700" y="971.5">2022</text><text x="799.2" y="941.5">May</text><text class="n" x="800" y="971.5">2022</text><text x="899.2" y="941.5">Jun</text><text class="n" x="900" y="971.5">2022</text></g>
</svg></div>
</body></html>
